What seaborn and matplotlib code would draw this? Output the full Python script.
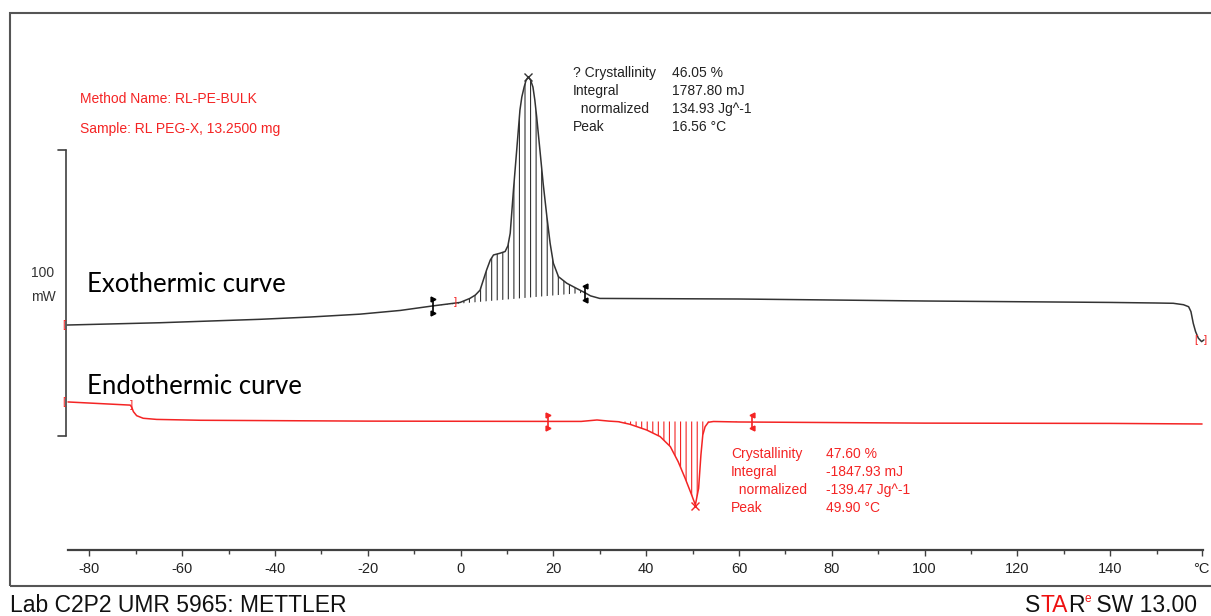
import numpy as np
import pandas as pd
import matplotlib
matplotlib.use("Agg")
import matplotlib.pyplot as plt
import seaborn as sns
from matplotlib.patches import Rectangle

# ---------------- data (temperature in °C, heat flow in mW) ----------------
exo_T = [-84.8, -64.8, -43.2, -32.4, -21.7, -13.0, -5.9, -0.1, 2.0, 3.2, 4.2, 4.9, 5.6, 6.4, 7.1,
         8.5, 9.6, 10.2, 10.7, 11.4, 12.1, 12.8, 13.2, 13.7, 14.1, 14.6, 15.1, 15.6, 16.0, 16.4,
         17.1, 17.8, 18.6, 19.3, 20.0, 21.1, 22.9, 25.0, 26.8, 28.0, 30.0, 60, 100, 140, 150,
         153.6, 155.8, 156.9, 157.4, 157.9, 158.4, 159.0, 159.7, 160.2]
exo_mW = [38.8, 39.6, 40.8, 41.6, 42.6, 43.9, 45.5, 46.7, 48.1, 49.3, 51.0, 54.5, 58.0, 61.5, 63.3,
          63.9, 64.5, 66.5, 70.9, 86.0, 100.0, 114.0, 118.5, 122.0, 124.3, 125.6, 124.4, 122.0, 117.5, 111.6,
          100.0, 88.3, 76.7, 67.4, 60.4, 55.7, 53.4, 51.6, 50.1, 49.0, 48.1, 47.9, 47.2, 46.7, 46.5,
          46.4, 45.9, 45.2, 43.5, 39.4, 36.5, 34.2, 33.0, 33.6]

endo_T = [-84.6, -71.2, -70.9, -70.5, -69.8, -68.4, -65.5, -56.1, -20, 20, 26, 29.4, 32, 34,
          36.5, 40.1, 43.0, 45.2, 46.9, 48.4, 49.8, 50.6, 51.3, 51.8, 52.2, 52.7, 53.4, 54.5,
          60, 100, 140, 159.8]
endo_mW = [11.9, 10.8, 10.2, 8.5, 7.1, 6.2, 5.8, 5.5, 5.2, 5.1, 5.1, 5.6, 5.2, 5.0,
           4.1, 2.1, -0.2, -3.7, -9.0, -14.8, -20.6, -24.1, -18.3, -6.6, 0.35, 3.25, 4.8, 5.07,
           4.9, 4.5, 4.4, 4.2]

# integration limits (°C) and baseline values (mW)
exo_limits = [-5.9, 26.8]
exo_base = [45.5, 50.1]
endo_limits = [18.9, 62.8]
endo_base = [5.07, 5.07]

exo_peak = (14.6, 125.6)
endo_peak = (50.6, -24.6)

major_ticks = [-80, -60, -40, -20, 0, 20, 40, 60, 80, 100, 120, 140, 159.7]
major_labels = ["-80", "-60", "-40", "-20", "0", "20", "40", "60", "80", "100", "120", "140", "°C"]
minor_ticks = [-70, -50, -30, -10, 10, 30, 50, 70, 90, 110, 130, 150]

exo_labels = ["? Crystallinity", "Integral", "  normalized", "Peak"]
exo_values = ["46.05 %", "1787.80 mJ", "134.93 Jg^-1", "16.56 °C"]
endo_labels = ["Crystallinity", "Integral", "  normalized", "Peak"]
endo_values = ["47.60 %", "-1847.93 mJ", "-139.47 Jg^-1", "49.90 °C"]

# ---------------- style ----------------
sns.set_theme(style="white")
plt.rcParams["font.family"] = ["Liberation Sans", "DejaVu Sans"]
plt.rcParams["hatch.linewidth"] = 0.8

RED = "#f42424"
DARK = "#333333"
W, H = 1211, 616

fig = plt.figure(figsize=(W / 100, H / 100), dpi=100)
fig.patch.set_facecolor("white")


def fx(px):
    return px / W


def fy(py):
    return 1 - py / H


# outer frame
fig.add_artist(Rectangle((fx(10), fy(586)), 1.2, (586 - 13) / H, transform=fig.transFigure,
                         fill=False, edgecolor="#555555", lw=1.5))

ax = fig.add_axes([fx(68), fy(550), (1203 - 68) / W, (550 - 20) / H])
ax.set_xlim(-84.6, 160.0)
ax.set_ylim(-39.86, 145.45)
ax.patch.set_alpha(0)
for s in ["left", "right", "top"]:
    ax.spines[s].set_visible(False)
ax.spines["bottom"].set_color("#404040")
ax.spines["bottom"].set_linewidth(1.6)
ax.set_yticks([])
ax.set_xticks(major_ticks)
ax.set_xticklabels(major_labels)
ax.set_xticks(minor_ticks, minor=True)
ax.tick_params(axis="x", which="both", bottom=True, direction="out", color="#404040", width=1)
ax.tick_params(axis="x", which="major", length=4.5, pad=4, labelsize=10.5, labelcolor="#222222")
ax.tick_params(axis="x", which="minor", length=3)
ax.grid(False)

# curves
exo = pd.DataFrame({"T": exo_T, "mW": exo_mW})
endo = pd.DataFrame({"T": endo_T, "mW": endo_mW})
sns.lineplot(data=exo, x="T", y="mW", ax=ax, color=DARK, lw=1.1, estimator=None, sort=False)
sns.lineplot(data=endo, x="T", y="mW", ax=ax, color=RED, lw=1.1, estimator=None, sort=False)
for ln in ax.lines:
    ln.set_clip_on(False)
    ln.set_solid_joinstyle("round")
ax.set_xlabel("")
ax.set_ylabel("")

# hatched integration areas
eT = np.array(exo_T); eY = np.array(exo_mW)
m = (eT >= exo_limits[0]) & (eT <= exo_limits[1])
base = np.interp(eT[m], exo_limits, exo_base)
ax.fill_between(eT[m], base, eY[m], facecolor="none", edgecolor=DARK, hatch="|||", linewidth=0)

nT = np.array(endo_T); nY = np.array(endo_mW)
m2 = (nT >= endo_limits[0]) & (nT <= endo_limits[1])
base2 = np.interp(nT[m2], endo_limits, endo_base)
ax.fill_between(nT[m2], base2, np.minimum(nY[m2], base2), facecolor="none", edgecolor=RED,
                hatch="|||", linewidth=0)


# limit flags
def flag(T, yc, color, pointing):
    ax.plot([T, T], [yc - 2.4, yc + 2.4], color=color, lw=1.2, clip_on=False)
    ax.plot([T, T], [yc - 2.4, yc + 2.4], ls="none", marker=pointing, ms=3.5, color=color,
            clip_on=False)


flag(exo_limits[0], exo_base[0], "black", ">")
flag(exo_limits[1], exo_base[1], "black", "<")
flag(endo_limits[0], endo_base[0], RED, ">")
flag(endo_limits[1], endo_base[1], RED, "<")

# peak crosses
ax.plot(*exo_peak, marker="x", ms=6, mew=1.0, color=DARK, clip_on=False)
ax.plot(*endo_peak, marker="x", ms=6, mew=1.0, color=RED, clip_on=False)

# brackets
for (bt, by, s) in [(-85.4, 38.8, "["), (-1.2, 46.7, "]"), (-85.4, 12.0, "["), (-71.0, 10.9, "]"),
                    (158.4, 33.6, "["), (160.5, 33.6, "]")]:
    ax.text(bt, by, s, color=RED, fontsize=8, ha="center", va="center", clip_on=False)

# scale bar
ax.plot([-85.0, -85.0], [0, 100], color="#404040", lw=1.2, clip_on=False)
ax.plot([-86.7, -85.0], [100, 100], color="#404040", lw=1.2, clip_on=False)
ax.plot([-86.7, -85.0], [0, 0], color="#404040", lw=1.2, clip_on=False)
ax.text(-90.0, 57.0, "100", ha="center", va="center", fontsize=10, color=DARK)
ax.text(-90.0, 48.6, "mW", ha="center", va="center", fontsize=10, color=DARK)

# header texts
ax.text(-82.0, 117.8, "Method Name: RL-PE-BULK", color=RED, fontsize=10, va="center")
ax.text(-82.0, 107.3, "Sample: RL PEG-X, 13.2500 mg", color=RED, fontsize=10, va="center")

# curve labels
ax.text(-80.5, 53.0, "Exothermic curve", fontsize=18.5, va="center", color="black",
        family=["Lato", "DejaVu Sans"])
ax.text(-80.5, 17.3, "Endothermic curve", fontsize=18.5, va="center", color="black",
        family=["Lato", "DejaVu Sans"])

# result annotations
ys_exo = [126.9, 120.6, 114.3, 108.0]
for lab, val, yy in zip(exo_labels, exo_values, ys_exo):
    ax.text(24.2, yy, lab, fontsize=10, va="center", color="#222222")
    ax.text(45.6, yy, val, fontsize=10, va="center", color="#222222")
ys_endo = [-6.29, -12.59, -18.88, -25.17]
for lab, val, yy in zip(endo_labels, endo_values, ys_endo):
    ax.text(58.3, yy, lab, fontsize=10, va="center", color=RED)
    ax.text(78.8, yy, val, fontsize=10, va="center", color=RED)

# footer
FS = 16.5
fig.text(fx(10), fy(612), "Lab C2P2 UMR 5965: METTLER", fontsize=FS, va="baseline", ha="left",
         color="#111111")
t1 = fig.text(fx(1025), fy(612), "S", fontsize=FS, va="baseline", ha="left", color="#111111")
t2 = ax.annotate("TA", xy=(1, 0), xycoords=t1, va="bottom", ha="left", fontsize=FS, color="#ee1111")
t3 = ax.annotate("R", xy=(1, 0), xycoords=t2, va="bottom", ha="left", fontsize=FS, color="#111111")
t4 = ax.annotate("e", xy=(1, 0.5), xycoords=t3, va="bottom", ha="left", fontsize=8.5, color="#ee1111")
t5 = ax.annotate(" SW 13.00", xy=(1, 0), xycoords=t3, va="bottom", ha="left", fontsize=FS,
                 color="#111111", xytext=(4, 0), textcoords="offset points")

fig.savefig("out.png", dpi=100)
